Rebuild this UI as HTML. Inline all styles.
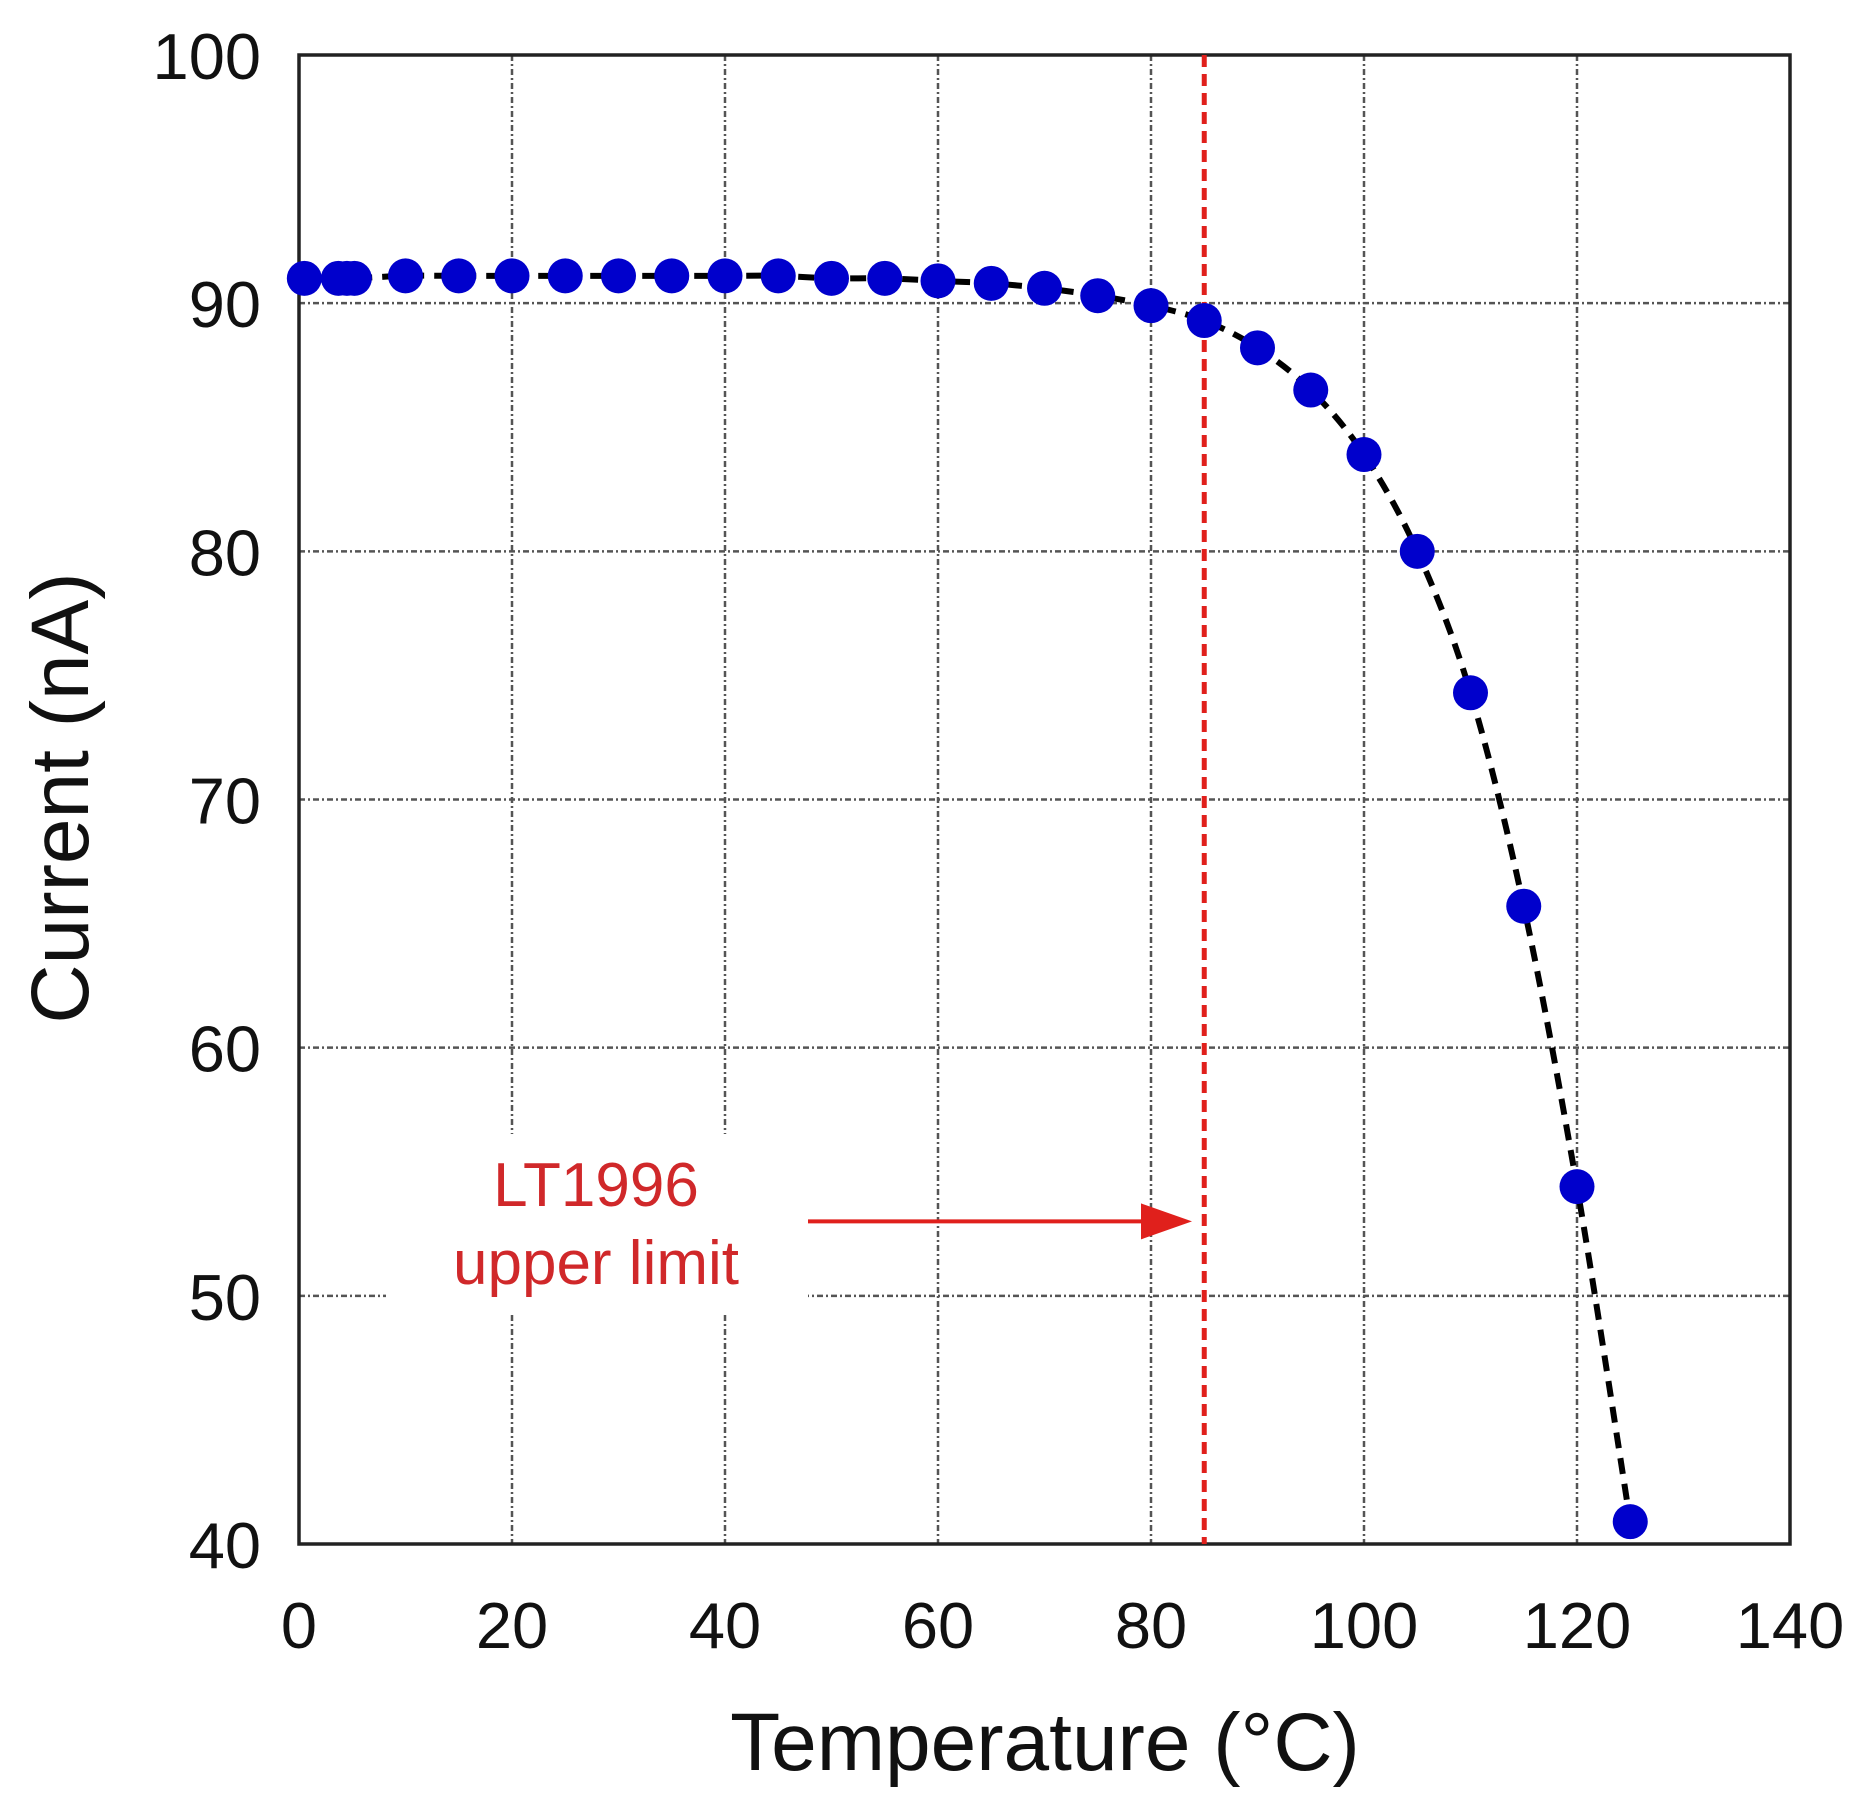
<!DOCTYPE html>
<html><head><meta charset="utf-8"><style>
html,body{margin:0;padding:0;background:#fff;}
svg{display:block;}
text{font-family:"Liberation Sans",Arial,sans-serif;}
</style></head><body>
<svg id="chart" width="1862" height="1804" viewBox="0 0 1862 1804">
<g id="grid"></g>
<g id="axes"></g>
<g id="annot"></g>
<g id="series"></g>
</svg>
<script>
const temps = [0.5,3.7,4.5,5.2,10,15,20,25,30,35,40,45,50,55,60,65,70,75,80,85,90,95,100,105,110,115,120,125];
const currents = [91.0,91.0,91.0,91.0,91.1,91.1,91.1,91.1,91.1,91.1,91.1,91.1,91.0,91.0,90.9,90.8,90.6,90.3,89.9,89.3,88.2,86.5,83.9,80.0,74.3,65.7,54.4,40.9];
const xTicks = [0,20,40,60,80,100,120,140];
const yTicks = [40,50,60,70,80,90,100];
const limitTemp = [85];
const arrowY = [53];

const L=299,R=1790,T=55,B=1544;
const xs=v=>L+(v-0)/140*(R-L);
const ys=v=>B-(v-40)/60*(B-T);
const NS="http://www.w3.org/2000/svg";
function mk(tag,attrs,parent,txt){const e=document.createElementNS(NS,tag);for(const k in attrs)e.setAttribute(k,attrs[k]);if(txt!==undefined)e.textContent=txt;parent.appendChild(e);return e;}
const grid=document.getElementById('grid'),axes=document.getElementById('axes'),annot=document.getElementById('annot'),series=document.getElementById('series');

xTicks.forEach(t=>{
  if(t>0&&t<140){const g=mk('line',{x1:xs(t),x2:xs(t),y1:T,y2:B,stroke:'#555','stroke-width':2.5,'stroke-dasharray':'6,3,2,3'},grid);
  
  }
  const tl=mk('text',{x:xs(t),y:1648,'text-anchor':'middle','font-size':65,fill:'#111'},axes,String(t));
  
  
});
yTicks.forEach(t=>{
  if(t>40&&t<100){const g=mk('line',{x1:L,x2:R,y1:ys(t),y2:ys(t),stroke:'#555','stroke-width':2.5,'stroke-dasharray':'6,3,2,3'},grid);
  
  }
  const tl=mk('text',{x:261,y:ys(t)+24,'text-anchor':'end','font-size':65,fill:'#111'},axes,String(t));
  
  
});
const frame=mk('rect',{x:L,y:T,width:R-L,height:B-T,fill:'none',stroke:'#222','stroke-width':3.5},axes);


const xt=mk('text',{x:1045,y:1770,'text-anchor':'middle','font-size':82,fill:'#111'},axes,'Temperature (°C)');


const yt=mk('text',{x:0,y:0,'text-anchor':'middle','font-size':82,fill:'#111',transform:'translate(88,798) rotate(-90)'},axes,'Current (nA)');



const box=mk('rect',{x:386,y:1134,width:422,height:178,fill:'#fff'},annot);


const vl=mk('line',{x1:xs(limitTemp[0]),x2:xs(limitTemp[0]),y1:T,y2:B,stroke:'#e0201c','stroke-width':5,'stroke-dasharray':'12,7'},annot);


const ay=ys(arrowY[0]);
const al=mk('line',{x1:808,x2:1150,y1:ay,y2:ay,stroke:'#e0201c','stroke-width':4},annot);


const ah=mk('polygon',{points:`1141,${ay-18} 1192,${ay} 1141,${ay+18}`,fill:'#e0201c'},annot);


const t1=mk('text',{x:596,y:1206,'text-anchor':'middle','font-size':62,fill:'#d0282a'},annot,'LT1996');


const t2=mk('text',{x:596,y:1284,'text-anchor':'middle','font-size':62,fill:'#d0282a'},annot,'upper limit');



const pts=temps.map((t,i)=>[xs(t),ys(currents[i])]);
let d=`M${pts[0][0]},${pts[0][1]}`;
for(let i=0;i<pts.length-1;i++){
  const p0=pts[Math.max(0,i-1)],p1=pts[i],p2=pts[i+1],p3=pts[Math.min(pts.length-1,i+2)];
  d+=` C${p1[0]+(p2[0]-p0[0])/6},${p1[1]+(p2[1]-p0[1])/6} ${p2[0]-(p3[0]-p1[0])/6},${p2[1]-(p3[1]-p1[1])/6} ${p2[0]},${p2[1]}`;
}
const cv=mk('path',{d:d,fill:'none',stroke:'#000','stroke-width':6,'stroke-dasharray':'16,10'},series);


pts.forEach(p=>{
  const c=mk('circle',{cx:p[0],cy:p[1],r:17.5,fill:'#0000cc'},series);
  
  
});
</script>
</body></html>
